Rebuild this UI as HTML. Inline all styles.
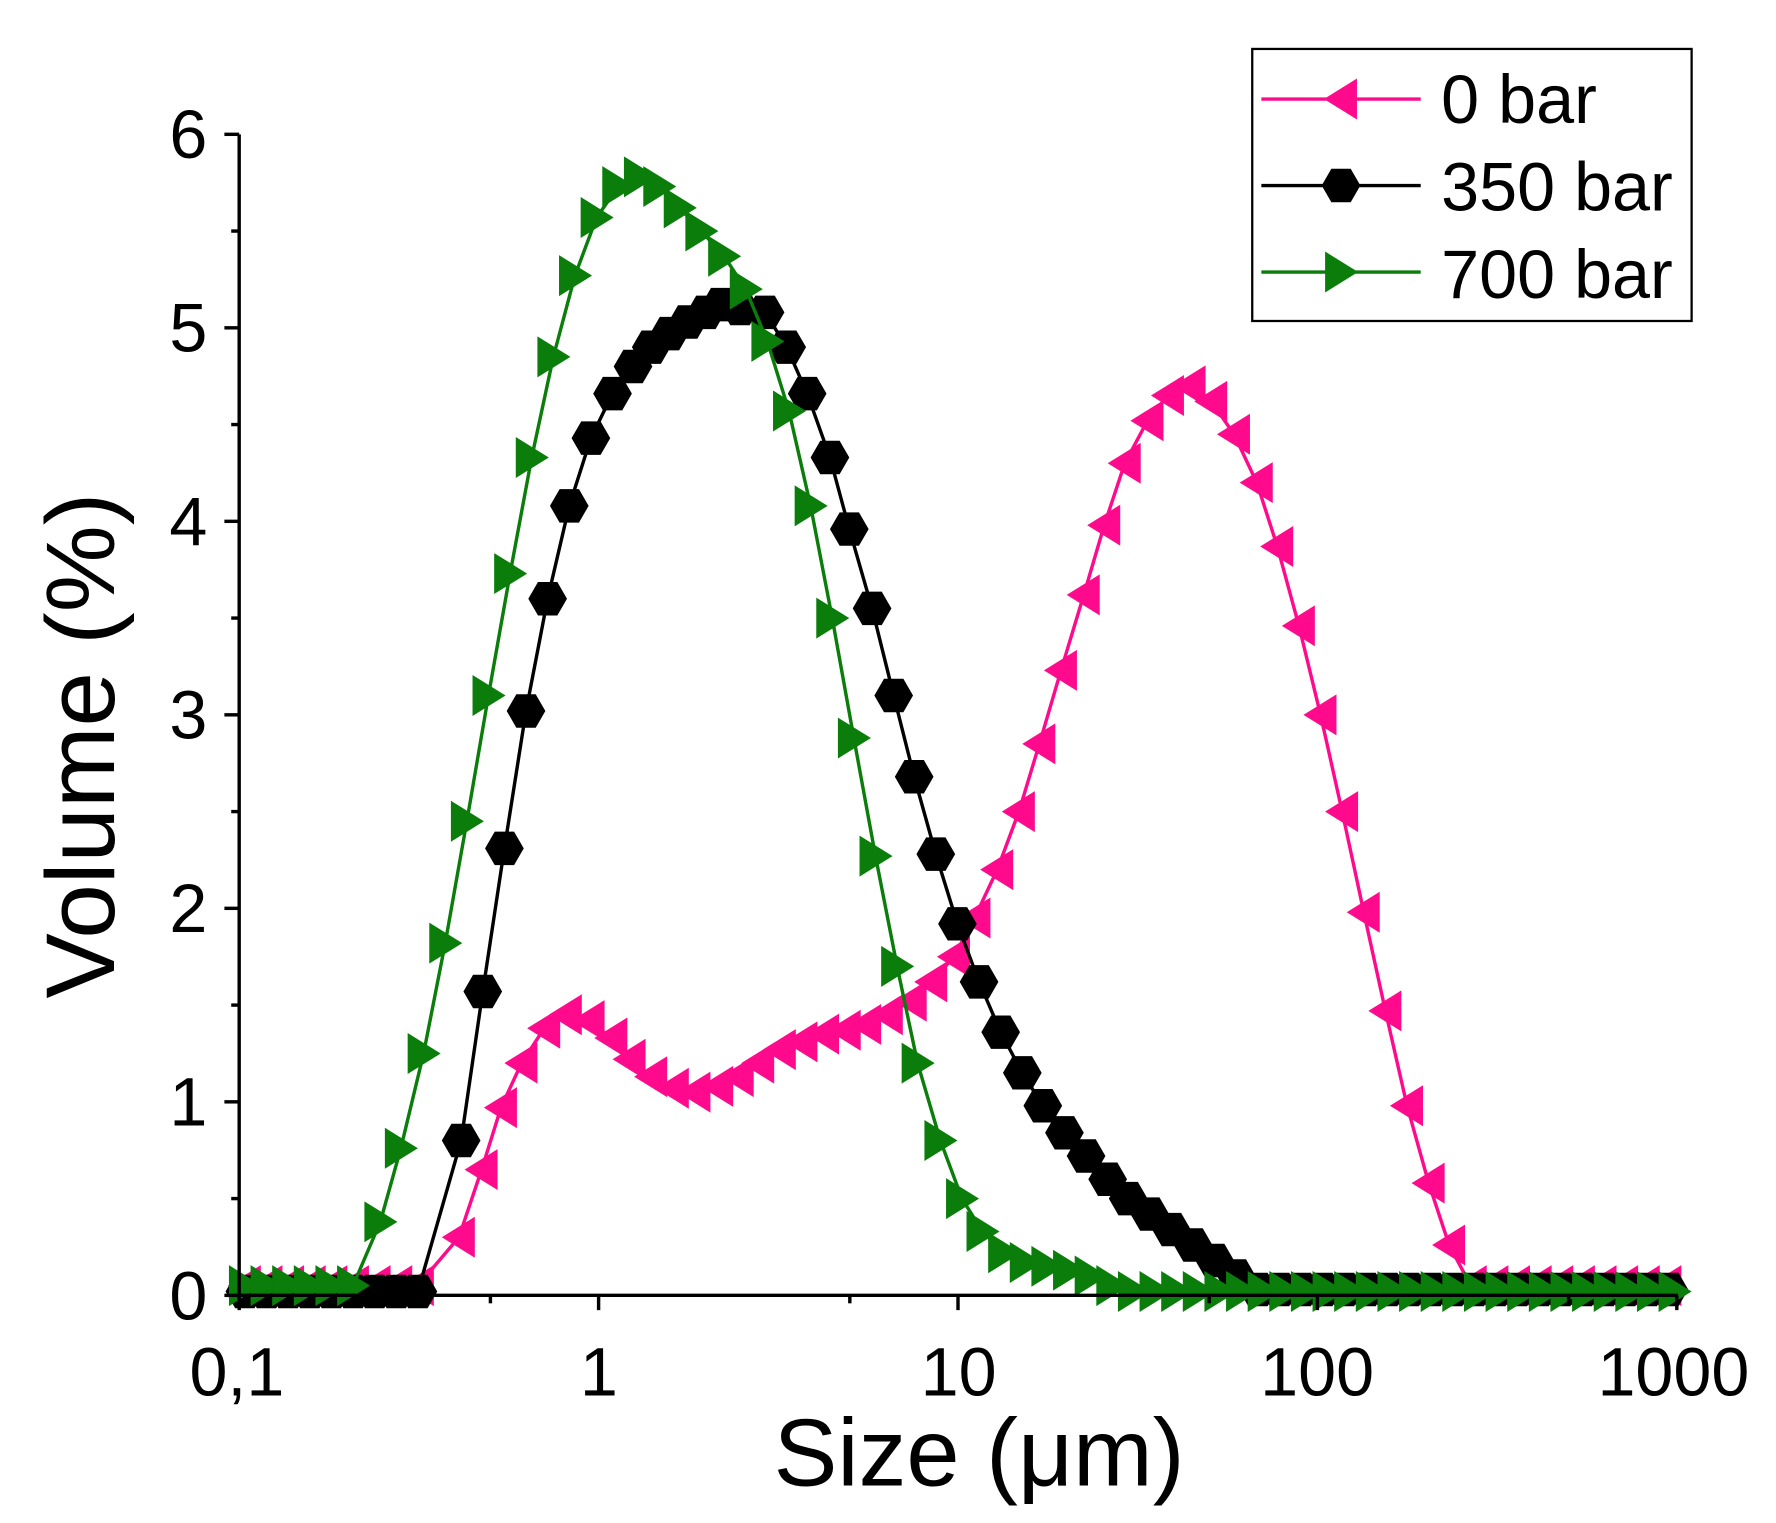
<!DOCTYPE html>
<html><head><meta charset="utf-8"><style>
html,body{margin:0;padding:0;background:#fff;}
svg{display:block}
text{font-family:"Liberation Sans",sans-serif;}
</style></head><body>
<svg id="s" width="1776" height="1523" viewBox="0 0 1560 1338" xmlns="http://www.w3.org/2000/svg">
<rect width="1560" height="1338" fill="#fff"/>
<g id="plot"></g>
<g stroke="#000" stroke-width="3" fill="none">
<line x1="210" y1="118" x2="210" y2="1139"/>
<line x1="209" y1="1138" x2="1474" y2="1138"/>
</g>
<g id="ticks" stroke="#000" stroke-width="3"></g>
<g font-size="60" text-anchor="end" fill="#000">
<text x="182" y="1159">0</text><text x="182" y="989">1</text><text x="182" y="819">2</text>
<text x="182" y="649">3</text><text x="182" y="479">4</text><text x="182" y="309">5</text><text x="182" y="139">6</text>
</g>
<g font-size="60" text-anchor="middle" fill="#000">
<text x="208" y="1226">0,1</text><text x="526" y="1226">1</text><text x="842" y="1226">10</text>
<text x="1157" y="1226">100</text><text x="1470" y="1226">1000</text>
</g>
<text x="860" y="1305" font-size="84" text-anchor="middle">Size (μm)</text>
<text transform="translate(100,655) rotate(-90)" font-size="86" text-anchor="middle">Volume (%)</text>
<rect x="1100" y="43" width="386" height="239" fill="#fff" stroke="#000" stroke-width="2"/>
<g id="leg"></g>
<g font-size="60" fill="#000">
<text x="1266" y="108">0 bar</text><text x="1266" y="185">350 bar</text><text x="1266" y="262">700 bar</text>
</g>
</svg>
<script>
const Y=v=>1138-170*v;
function flat(a,b,v){const r=[];for(let x=a;x<=b;x+=19)r.push([x,v]);return r;}
const pink=[...flat(215,385,0.05),[403,0.3],[423,0.65],[440,0.97],[458,1.2],[478,1.38],[497,1.45],[517,1.42],[537,1.33],[553,1.22],[572,1.13],[591,1.07],[610,1.05],[630,1.08],[648,1.13],[666,1.2],[685,1.27],[704,1.31],[723,1.35],[742,1.37],[760,1.4],[779,1.45],[800,1.52],[818,1.62],[838,1.75],[856,1.95],[876,2.2],[895,2.5],[913,2.85],[932,3.23],[952,3.62],[970,3.98],[988,4.3],[1008,4.52],[1026,4.65],[1045,4.7],[1064,4.62],[1084,4.45],[1104,4.2],[1122,3.87],[1141,3.46],[1160,3.0],[1179,2.5],[1198,1.98],[1217,1.47],[1236,0.98],[1255,0.58],[1273,0.26],...flat(1292,1473,0.05)];
const blk=[...flat(215,385,0.02),[405,0.8],[424,1.57],[443,2.31],[462,3.02],[481,3.6],[500,4.08],[519,4.43],[538,4.66],[556,4.8],[572,4.9],[588,4.97],[604,5.03],[620,5.08],[633,5.12],[650,5.1],[672,5.08],[691,4.9],[709,4.66],[729,4.33],[746,3.96],[766,3.55],[785,3.1],[803,2.68],[822,2.28],[841,1.92],[860,1.62],[879,1.36],[898,1.15],[916,0.98],[935,0.84],[954,0.72],[973,0.6],[991,0.5],[1010,0.42],[1029,0.34],[1048,0.26],[1067,0.18],[1086,0.1],...flat(1105,1473,0.03)];
const grn=[...flat(215,310,0.05),[334,0.38],[352,0.76],[372,1.25],[391,1.82],[410,2.45],[429,3.1],[448,3.73],[467,4.33],[486,4.85],[505,5.27],[524,5.57],[543,5.73],[562,5.78],[579,5.73],[597,5.62],[616,5.5],[636,5.37],[655,5.2],[674,4.93],[693,4.57],[712,4.08],[731,3.5],[750,2.88],[769,2.27],[788,1.7],[806,1.2],[826,0.8],[845,0.5],[863,0.33],[882,0.22],[901,0.17],[920,0.15],[939,0.13],[958,0.1],[977,0.05],...flat(996,1473,0.02)];
function mk(type,x,y,c){
 if(type=='L')return `<polygon points="${x-15},${y} ${x+14},${y-18} ${x+14},${y+18}" fill="${c}"/>`;
 if(type=='R')return `<polygon points="${x+15},${y} ${x-14},${y-18} ${x-14},${y+18}" fill="${c}"/>`;
 let p=[];for(let i=0;i<6;i++){const a=Math.PI/3*i;p.push((x+17*Math.cos(a)).toFixed(1)+','+(y+17*Math.sin(a)).toFixed(1));}
 return `<polygon points="${p.join(' ')}" fill="${c}"/>`;
}
function series(d,type,c){
 let s=`<polyline fill="none" stroke="${c}" stroke-width="3" points="${d.map(p=>p[0]+','+Y(p[1]).toFixed(1)).join(' ')}"/>`;
 d.forEach(p=>{s+=mk(type,p[0],Y(p[1]),c)});return s;
}
document.getElementById('plot').innerHTML=series(pink,'L','#ff0a8c')+series(blk,'H','#000')+series(grn,'R','#0a7d0a');
let t='';
for(let i=0;i<=12;i++){const y=1138-85*i;t+=`<line x1="${i%2?203:197}" y1="${y}" x2="210" y2="${y}"/>`;}
for(let d=0;d<=4;d++){const x=210+315.75*d;t+=`<line x1="${x}" y1="1138" x2="${x}" y2="1151"/>`;if(d<4){const m=x+315.75*0.699;t+=`<line x1="${m}" y1="1138" x2="${m}" y2="1145"/>`;}}
document.getElementById('ticks').innerHTML=t;
document.getElementById('leg').innerHTML=
 `<line x1="1108" y1="87" x2="1248" y2="87" stroke="#ff0a8c" stroke-width="3"/>`+mk('L',1178,87,'#ff0a8c')+
 `<line x1="1108" y1="163" x2="1248" y2="163" stroke="#000" stroke-width="3"/>`+mk('H',1178,163,'#000')+
 `<line x1="1108" y1="239" x2="1248" y2="239" stroke="#0a7d0a" stroke-width="3"/>`+mk('R',1178,239,'#0a7d0a');
</script>
</body></html>
